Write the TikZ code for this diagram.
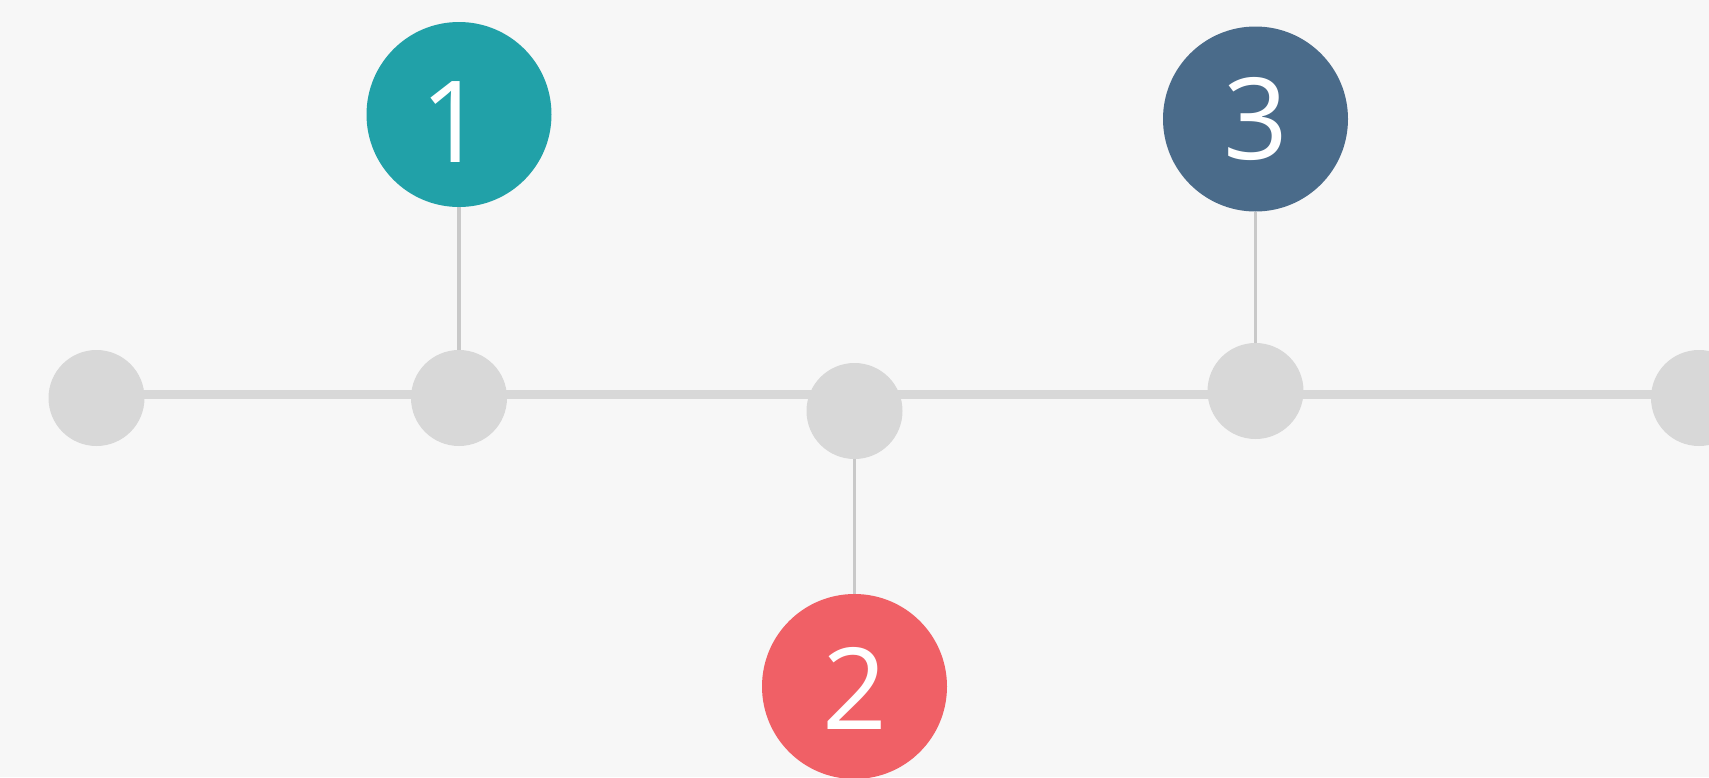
\documentclass[tikz,border=0pt]{standalone}
\usepackage{fontspec}
\setmainfont{Open Sans}
\usetikzlibrary{backgrounds}
\definecolor{paper}{HTML}{F7F7F7}
\definecolor{dotgray}{HTML}{D8D8D8}
\definecolor{stemgray}{HTML}{C9C9C9}
\definecolor{tealdot}{HTML}{21A1A8}
\definecolor{reddot}{HTML}{F06066}
\definecolor{bluedot}{HTML}{4A6B8A}

\begin{document}
\begin{tikzpicture}[x=0.5pt,y=-0.5pt,
	dot/.style={circle,fill=dotgray,inner sep=0pt,minimum size=48pt},
	bigdot/.style={circle,inner sep=0pt,minimum size=92.5pt},
	num/.style={text=white,inner sep=0pt,font=\fontsize{56.7}{60}\selectfont}]
	\useasboundingbox (0,0) rectangle (1709,777);
	% small dots on the line
	\node[dot] (a) at (96.5,398) {};
	\node[dot] (b) at (459,398) {};
	\node[dot] (c) at (854.5,411) {};
	\node[dot] (d) at (1255.5,391) {};
	\node[dot] (e) at (1699,398) {};
	% numbered dots
	\node[bigdot,fill=tealdot,label={[num,xshift=-3pt,yshift=-4pt]center:1}] (one) at (459,114.5) {};
	\node[bigdot,fill=reddot,label={[num,yshift=-1pt]center:2}] (two) at (854.5,686.5) {};
	\node[bigdot,fill=bluedot,label={[num]center:3}] (three) at (1255.5,119) {};
	\begin{scope}[on background layer]
		\fill[paper] (0,0) rectangle (1709,777);
		\draw[line width=4.5pt,dotgray] ([yshift=1.75pt]a.center) -- ([yshift=1.75pt]e.center);
		\draw[line width=1.75pt,stemgray] (b) -- (one);
		\draw[line width=1.75pt,stemgray] (c) -- (two);
		\draw[line width=1.75pt,stemgray] (d) -- (three);
	\end{scope}
\end{tikzpicture}
\end{document}
